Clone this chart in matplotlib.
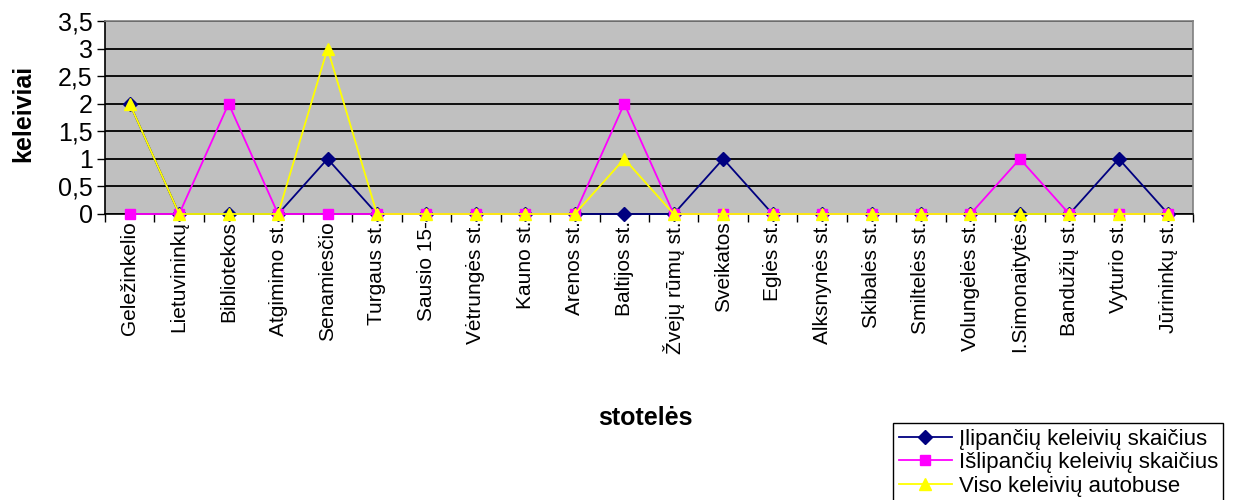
import matplotlib
matplotlib.use("Agg")
import matplotlib.pyplot as plt
from matplotlib.ticker import MultipleLocator, FixedLocator, FuncFormatter

plt.rcParams['font.family'] = ['Liberation Sans', 'DejaVu Sans']

stops = ["Geležinkelio", "Lietuvininkų", "Bibliotekos", "Atgimimo st.", "Senamiesčio",
         "Turgaus st.", "Sausio 15-", "Vėtrungės st.", "Kauno st.", "Arenos st.",
         "Baltijos st.", "Žvejų rūmų st.", "Sveikatos", "Eglės st.", "Alksnynės st.",
         "Skibalės st.", "Smiltelės st.", "Volungėlės st.", "I.Simonaitytės",
         "Bandužių st.", "Vyturio st.", "Jūrininkų st."]
ilipanciu = [2, 0, 0, 0, 1, 0, 0, 0, 0, 0, 0, 0, 1, 0, 0, 0, 0, 0, 0, 0, 1, 0]
islipanciu = [0, 0, 2, 0, 0, 0, 0, 0, 0, 0, 2, 0, 0, 0, 0, 0, 0, 0, 1, 0, 0, 0]
viso = [2, 0, 0, 0, 3, 0, 0, 0, 0, 0, 1, 0, 0, 0, 0, 0, 0, 0, 0, 0, 0, 0]
series_names = ["Įlipančių keleivių skaičius", "Išlipančių keleivių skaičius", "Viso keleivių autobuse"]

fig = plt.figure(figsize=(12.48, 5.0), dpi=100)
ax = fig.add_axes([105/1248, 1-214/500, (1193-105)/1248, (214-21)/500])
ax.set_facecolor('#C0C0C0')

x = list(range(len(stops)))
ax.plot(x, ilipanciu, color='#000080', marker='D', markersize=7, lw=1.3, label=series_names[0], clip_on=False, zorder=3)
ax.plot(x, islipanciu, color='#FF00FF', marker='s', markersize=7, lw=1.3, label=series_names[1], clip_on=False, zorder=4)
ax.plot(x, viso, color='#FFFF00', marker='^', markersize=8.5, lw=1.3, label=series_names[2], clip_on=False, zorder=5)

ax.set_xlim(-0.5, len(stops) - 0.5)
ax.set_ylim(0, 3.5)
ax.yaxis.set_major_locator(MultipleLocator(0.5))
ax.yaxis.set_major_formatter(FuncFormatter(lambda v, p: ('%g' % v).replace('.', ',')))
ax.grid(axis='y', color='black', lw=1.3, zorder=1)
ax.set_axisbelow(True)

ax.set_xticks(x)
ax.set_xticklabels(stops, rotation=90, fontsize=15)
ax.tick_params(axis='x', which='major', length=0, pad=5)
ax.xaxis.set_minor_locator(FixedLocator([i - 0.5 for i in range(len(stops) + 1)]))
ax.tick_params(axis='x', which='minor', length=6, width=1, direction='out', color='black')
ax.tick_params(axis='y', length=6, width=1, direction='out', labelsize=18, pad=3)

for s in ['left', 'bottom']:
    ax.spines[s].set_color('black')
    ax.spines[s].set_linewidth(1.2)
for s in ['top', 'right']:
    ax.spines[s].set_color('#808080')
    ax.spines[s].set_linewidth(1.2)

fig.text(23/1248, 1-113/500, 'keleiviai', rotation=90, fontsize=18, fontweight='bold', ha='center', va='center')
fig.text(645/1248, 1-418/500, 'stotelės', fontsize=18, fontweight='bold', ha='center', va='center')

leg = fig.legend(loc='upper left', bbox_to_anchor=(893/1248, 1-423/500), fontsize=16,
                 frameon=True, fancybox=False, edgecolor='black', framealpha=1,
                 handlelength=2.4, handletextpad=0.3, labelspacing=0.12,
                 borderpad=0.25, borderaxespad=0)
leg.get_frame().set_linewidth(1.0)

fig.savefig('out.png', dpi=100)
